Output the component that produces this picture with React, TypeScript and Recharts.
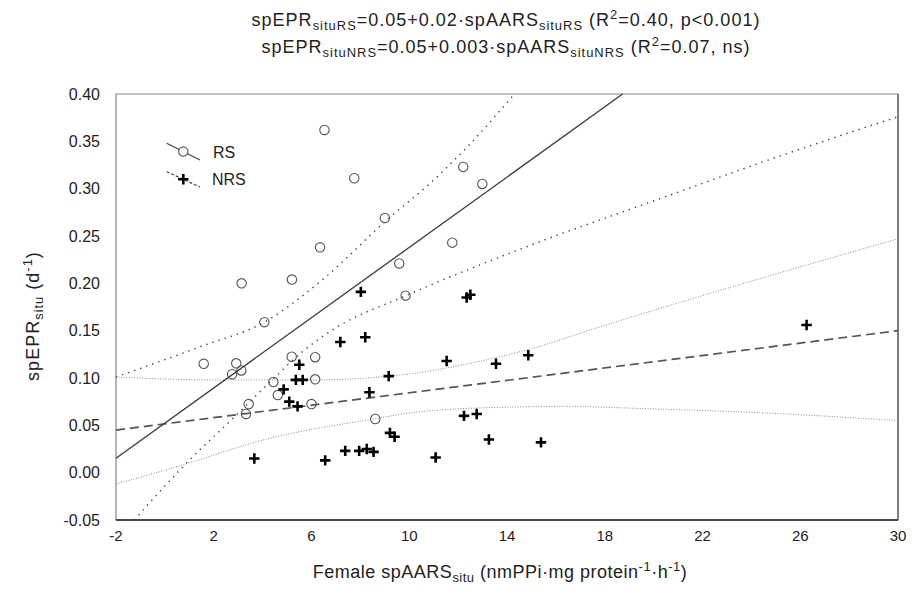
// spEPR vs spAARS (in situ) for RS and NRS females, with fitted lines and 95% bands

import {
  ComposedChart, Scatter, Line, XAxis, YAxis, Legend, ReferenceArea, ReferenceLine,
} from 'recharts';

const FONT = "'Liberation Sans', Arial, Helvetica, sans-serif";

// ── Axis ticks ────────────────────────────────────────────────────────────────
const X_TICKS = [-2, 2, 6, 10, 14, 18, 22, 26, 30];
const Y_TICKS = [-0.05, 0, 0.05, 0.1, 0.15, 0.2, 0.25, 0.3, 0.35, 0.4];

// ── RS females ────────────────────────────────────────────────────────────────
const rsAars = [6.53, 7.75, 12.21, 12.99, 9.0, 6.35, 11.76, 9.59, 5.2, 3.14, 9.85, 4.07, 1.59,
  2.92, 2.75, 3.13, 5.19, 6.15, 4.44, 6.15, 4.62, 3.43, 3.32, 6.0, 8.61];
const rsEpr = [0.362, 0.311, 0.323, 0.305, 0.269, 0.238, 0.243, 0.221, 0.204, 0.2, 0.187, 0.159, 0.115,
  0.1155, 0.104, 0.108, 0.1225, 0.122, 0.0958, 0.0986, 0.082, 0.0725, 0.062, 0.0725, 0.0567];

// ── NRS females ───────────────────────────────────────────────────────────────
const nrsAars = [8.02, 12.35, 12.5, 26.26, 7.18, 8.2, 5.5, 5.36, 5.64, 9.16, 4.86, 8.37, 5.09, 5.43,
  9.21, 9.4, 3.66, 6.56, 7.38, 7.95, 8.26, 8.54, 11.53, 13.55, 14.87, 12.24, 12.76, 13.26, 15.39, 11.08];
const nrsEpr = [0.191, 0.185, 0.188, 0.156, 0.138, 0.143, 0.114, 0.098, 0.098, 0.102, 0.088, 0.085, 0.075, 0.07,
  0.042, 0.038, 0.015, 0.013, 0.023, 0.023, 0.025, 0.022, 0.118, 0.115, 0.124, 0.06, 0.062, 0.035, 0.032, 0.016];

// ── Regression lines ──────────────────────────────────────────────────────────
const rsFitX = [-2, 18.73];
const rsFitY = [0.0152, 0.4];
const nrsFitX = [-2, 30];
const nrsFitY = [0.045, 0.15];

// ── Confidence bands ──────────────────────────────────────────────────────────
const rsUpperX = [-2, 1.44, 4.07, 6.5, 9.0, 11.12, 12.48, 14.3];
const rsUpperY = [0.101, 0.133, 0.159, 0.205, 0.265, 0.312, 0.347, 0.4];
const rsLowerX = [-1.25, 0.73, 3.05, 4.27, 5.64, 6.87, 9.87, 14.94, 20, 25, 30];
const rsLowerY = [-0.05, 0.006, 0.064, 0.095, 0.128, 0.151, 0.187, 0.24, 0.287, 0.333, 0.376];
const nrsUpperX = [-2, 2, 6, 9.6, 12, 15, 17.8, 23.3, 30];
const nrsUpperY = [0.101, 0.098, 0.098, 0.103, 0.113, 0.131, 0.154, 0.197, 0.247];
const nrsLowerX = [-2, 0.7, 4.1, 8.6, 10.3, 13.7, 16.5, 19.2, 24.6, 30];
const nrsLowerY = [-0.012, 0.008, 0.035, 0.057, 0.064, 0.069, 0.07, 0.068, 0.063, 0.055];

const toPoints = (xs: number[], ys: number[]) => xs.map((x, i) => ({ x, y: ys[i] }));

const rsData = toPoints(rsAars, rsEpr);
const nrsData = toPoints(nrsAars, nrsEpr);

// ── Markers ───────────────────────────────────────────────────────────────────
function OpenCircle(props: any) {
  const { cx, cy } = props;
  return <circle cx={cx} cy={cy} r={4.7} fill="none" stroke="#555" strokeWidth={1.1} />;
}

function Cross(props: any) {
  const { cx, cy } = props;
  return (
    <path
      d={`M${cx - 5.2} ${cy}H${cx + 5.2}M${cx} ${cy - 5.2}V${cy + 5.2}`}
      stroke="#000"
      strokeWidth={2.6}
      fill="none"
    />
  );
}

function LegendBox() {
  return (
    <svg width={110} height={60} style={{ display: 'block', fontFamily: FONT }}>
      <line x1={6.7} y1={8.3} x2={40} y2={25} stroke="#444" strokeWidth={1.2} />
      <circle cx={23.3} cy={16.6} r={4.7} fill="#fff" stroke="#555" strokeWidth={1.1} />
      <text x={53} y={17.5} dominantBaseline="central" fontSize={16} fill="#222">RS</text>
      <line x1={6.7} y1={36.7} x2={40} y2={52} stroke="#444" strokeWidth={1.2} strokeDasharray="3 2" />
      <Cross cx={23.3} cy={44.3} />
      <text x={52} y={44.5} dominantBaseline="central" fontSize={16} fill="#222">NRS</text>
    </svg>
  );
}

const sub = { fontSize: '0.72em', position: 'relative' as const, top: '0.3em', verticalAlign: 'baseline' };
const sup = { fontSize: '0.72em', position: 'relative' as const, top: '-0.55em', verticalAlign: 'baseline' };

const label = {
  position: 'absolute' as const, whiteSpace: 'nowrap' as const, fontSize: 18,
  letterSpacing: 1, color: '#222', fontFamily: FONT,
};

function Heading() {
  const line = { ...label, left: 506, transform: 'translate(-50%, -50%)' };
  return (
    <>
      <div style={{ ...line, top: 20 }}>
        spEPR<span style={sub}>situRS</span>=0.05+0.02·spAARS<span style={sub}>situRS</span> (R<span style={sup}>2</span>=0.40, p&lt;0.001)
      </div>
      <div style={{ ...line, top: 47 }}>
        spEPR<span style={sub}>situNRS</span>=0.05+0.003·spAARS<span style={sub}>situNRS</span> (R<span style={sup}>2</span>=0.07, ns)
      </div>
    </>
  );
}

export default function App() {
  return (
    <div style={{ position: 'absolute', left: 0, top: 0, width: 914, height: 589, background: '#fff', fontFamily: FONT }}>
      <Heading />
      <ComposedChart width={914} height={589} margin={{ top: 94, right: 16, bottom: 0, left: 0 }}>
        <XAxis
          type="number" dataKey="x" domain={[-2, 30]} ticks={X_TICKS} height={69}
          axisLine={false} tickLine={false} tickSize={0} tickMargin={10}
          tick={{ fill: '#222', fontSize: 15, fontFamily: FONT }}
        />
        <YAxis
          type="number" dataKey="y" domain={[-0.05, 0.4]} ticks={Y_TICKS} width={116}
          axisLine={false} tickLine={false} tickSize={0} tickMargin={16}
          tickFormatter={(v: number) => v.toFixed(2)}
          tick={{ fill: '#222', fontSize: 16, fontFamily: FONT }}
        />
        <ReferenceArea x1={-2} x2={30} y1={-0.05} y2={0.4} fill="none" stroke="#888" strokeWidth={1.2} />
        <ReferenceLine y={-0.05} stroke="#222" strokeWidth={1.6} />
        <ReferenceLine x={30} stroke="#666" strokeWidth={1.4} />

        <Line data={toPoints(nrsUpperX, nrsUpperY)} dataKey="y" type="monotone" stroke="#8a8a8a" strokeWidth={1}
          strokeDasharray="1 1.6" dot={false} activeDot={false} legendType="none" isAnimationActive={false} />
        <Line data={toPoints(nrsLowerX, nrsLowerY)} dataKey="y" type="monotone" stroke="#8a8a8a" strokeWidth={1}
          strokeDasharray="1 1.6" dot={false} activeDot={false} legendType="none" isAnimationActive={false} />
        <Line data={toPoints(rsUpperX, rsUpperY)} dataKey="y" type="monotone" stroke="#444" strokeWidth={1.4}
          strokeDasharray="1.4 5" dot={false} activeDot={false} legendType="none" isAnimationActive={false} />
        <Line data={toPoints(rsLowerX, rsLowerY)} dataKey="y" type="monotone" stroke="#444" strokeWidth={1.4}
          strokeDasharray="1.4 5" dot={false} activeDot={false} legendType="none" isAnimationActive={false} />
        <Line data={toPoints(nrsFitX, nrsFitY)} dataKey="y" type="linear" stroke="#555" strokeWidth={1.7}
          strokeDasharray="9 5" dot={false} activeDot={false} legendType="none" isAnimationActive={false} />
        <Line data={toPoints(rsFitX, rsFitY)} dataKey="y" type="linear" stroke="#3a3a3a" strokeWidth={1.3}
          dot={false} activeDot={false} legendType="none" isAnimationActive={false} />

        <Scatter name="RS" data={rsData} dataKey="y" shape={OpenCircle} isAnimationActive={false} />
        <Scatter name="NRS" data={nrsData} dataKey="y" shape={Cross} isAnimationActive={false} />

        <Legend
          layout="vertical" align="center" verticalAlign="middle"
          content={() => <LegendBox />}
          wrapperStyle={{ left: 160, top: 135, width: 110, height: 60 }}
        />
      </ComposedChart>
      <div style={{ ...label, left: 33, top: 316, transform: 'translate(-50%, -50%) rotate(-90deg)' }}>
        spEPR<span style={sub}>situ</span> (d<span style={sup}>-1</span>)
      </div>
      <div style={{ ...label, letterSpacing: 0.5, left: 500, top: 572, transform: 'translate(-50%, -50%)' }}>
        Female spAARS<span style={sub}>situ</span> (nmPPi·mg protein<span style={sup}>-1</span>·h<span style={sup}>-1</span>)
      </div>
    </div>
  );
}
